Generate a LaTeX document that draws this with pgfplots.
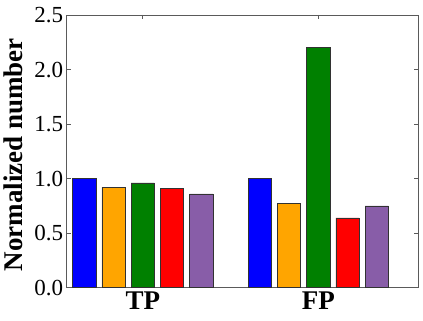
\documentclass[border=0pt]{standalone}
\usepackage{fontspec}
\setmainfont{Liberation Serif}
\usepackage{pgfplots}
\pgfplotsset{compat=1.18}
\definecolor{cBlue}{RGB}{0,0,255}
\definecolor{cOrange}{RGB}{255,165,0}
\definecolor{cGreen}{RGB}{0,128,0}
\definecolor{cRed}{RGB}{255,0,0}
\definecolor{cPurple}{RGB}{136,93,168}
\definecolor{cEdge}{RGB}{50,50,50}
\definecolor{cAxis}{RGB}{90,90,90}
\begin{document}
\begin{tikzpicture}
\begin{axis}[
  scale only axis,
  width=351.6pt, height=272.7pt,
  xmin=-0.6, xmax=11.42,
  ymin=0, ymax=2.5,
  xtick={2,8}, xticklabels={TP,FP},
  ytick={0,0.5,1.0,1.5,2.0,2.5},
  yticklabel style={/pgf/number format/fixed,/pgf/number format/precision=1,/pgf/number format/fixed zerofill, inner sep=3.5pt},
  /pgf/number format/assume math mode=true,
  tick label style={font=\fontsize{23}{27}\selectfont},
  xticklabel style={font=\fontsize{27}{31}\selectfont\bfseries, inner sep=4pt},
  ylabel={Normalized number},
  every axis y label/.style={at={(axis description cs:-0.127,0.488)}, rotate=90, anchor=base, font=\fontsize{27}{31}\selectfont\bfseries},
  axis line style={cAxis, line width=0.8pt},
  tick style={cAxis, line width=0.6pt},
  major tick length=4pt,
  tick align=inside,
]
\addplot[ybar, bar shift=0pt, bar width=0.8, fill=cBlue, draw=cEdge, line width=0.6pt] coordinates {(0,1.0) (6,1.0)};
\addplot[ybar, bar shift=0pt, bar width=0.8, fill=cOrange, draw=cEdge, line width=0.6pt] coordinates {(1,0.92) (7,0.77)};
\addplot[ybar, bar shift=0pt, bar width=0.8, fill=cGreen, draw=cEdge, line width=0.6pt] coordinates {(2,0.96) (8,2.2)};
\addplot[ybar, bar shift=0pt, bar width=0.8, fill=cRed, draw=cEdge, line width=0.6pt] coordinates {(3,0.91) (9,0.64)};
\addplot[ybar, bar shift=0pt, bar width=0.8, fill=cPurple, draw=cEdge, line width=0.6pt] coordinates {(4,0.86) (10,0.75)};
\end{axis}
\useasboundingbox ([xshift=-66.7pt,yshift=-33.3pt]current axis.south west) rectangle ([xshift=4.7pt,yshift=15pt]current axis.north east);
\end{tikzpicture}
\end{document}
